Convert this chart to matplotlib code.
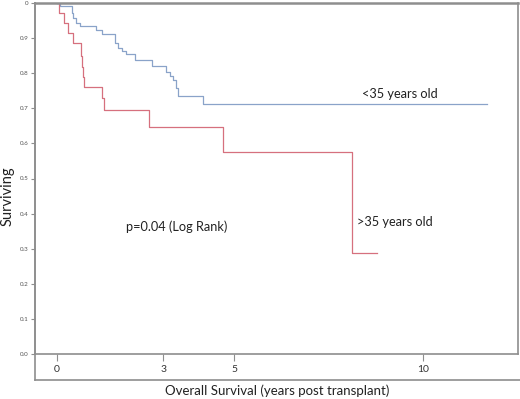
#!/usr/bin/env python3
"""Kaplan-Meier overall survival by recipient age (<35 vs >35 years old)."""

import matplotlib

matplotlib.use("Agg")

import matplotlib.pyplot as plt

# time after transplant (years) where each step happens, and survival after it
YOUNG_TIMES = [0.0, 0.08, 0.40, 0.45, 0.52, 0.63, 1.06, 1.22, 1.58, 1.68, 1.78,
               1.88, 2.13, 2.59, 2.98, 3.10, 3.17, 3.25, 3.31, 3.98, 11.75]
YOUNG_SURV = [1.0, 0.991, 0.971, 0.956, 0.942, 0.934, 0.923, 0.912, 0.885,
              0.871, 0.864, 0.854, 0.838, 0.821, 0.804, 0.792, 0.781, 0.757,
              0.735, 0.713, 0.713]

OLD_TIMES = [0.0, 0.05, 0.19, 0.31, 0.43, 0.65, 0.68, 0.70, 0.73, 1.24, 1.28,
             2.51, 4.53, 8.06, 8.74]
OLD_SURV = [1.0, 0.971, 0.942, 0.914, 0.885, 0.848, 0.819, 0.790, 0.760,
            0.728, 0.695, 0.648, 0.575, 0.288, 0.288]

# tick marks sit where the original axis put them, labels as printed
X_TICKS = [0.0, 2.90, 4.84, 10.0]
X_TICK_LABELS = ["0", "3", "5", "10"]
Y_TICKS = [0.0, 0.1, 0.2, 0.3, 0.4, 0.5, 0.6, 0.7, 0.8, 0.9, 1.0]
Y_TICK_LABELS = ["0.0", "0.1", "0.2", "0.3", "0.4", "0.5", "0.6", "0.7",
                 "0.8", "0.9", "0"]

BLUE = "#8aa3c9"
RED = "#d6707e"
FRAME = "#8e8e8e"
W, H = 520, 399


def fig_box(left, top, right, bottom):
    """pixel box -> figure fraction rect"""
    return [left / W, 1 - bottom / H, (right - left) / W, (bottom - top) / H]


def main():
    plt.rcParams["font.family"] = ["Lato", "DejaVu Sans"]
    fig = plt.figure(figsize=(W / 100, H / 100), dpi=100)

    # outer frame: left line runs down past the plot, bottom line under ticks
    frame = fig.add_axes(fig_box(35, 3, 520, 380), zorder=0)
    frame.set_xticks([])
    frame.set_yticks([])
    for side in ("top", "right"):
        frame.spines[side].set_visible(False)
    for side in ("left", "bottom"):
        frame.spines[side].set_color(FRAME)
        frame.spines[side].set_linewidth(1.2)
    frame.patch.set_alpha(0)

    ax = fig.add_axes(fig_box(35, 3, 518, 354), zorder=1)
    ax.patch.set_alpha(0)
    ax.step(YOUNG_TIMES, YOUNG_SURV, where="post", color=BLUE, linewidth=0.9)
    ax.step(OLD_TIMES, OLD_SURV, where="post", color=RED, linewidth=0.9)

    ax.set_xlim(-0.601, 12.596)
    ax.set_ylim(0, 1.0)
    for spine in ax.spines.values():
        spine.set_color(FRAME)
        spine.set_linewidth(1.2)
    ax.spines["top"].set_linewidth(1.8)

    ax.set_xticks(X_TICKS)
    ax.set_xticklabels(X_TICK_LABELS, fontsize=7.5, color="#333333")
    ax.tick_params(axis="x", direction="out", length=5, width=0.8,
                   color=FRAME, pad=3)
    ax.set_yticks(Y_TICKS)
    ax.set_yticklabels(Y_TICK_LABELS, fontsize=4.5, color="#555555")
    ax.tick_params(axis="y", direction="out", length=3, width=0.8,
                   color=FRAME, pad=1.5)

    fig.text(8 / W, 1 - 196 / H, "Surviving", rotation=90, fontsize=10.5,
             ha="center", va="center", color="#222222")
    fig.text(277 / W, 1 - 391 / H, "Overall Survival (years post transplant)",
             fontsize=9.5, ha="center", va="center", color="#222222")
    fig.text(362 / W, 1 - 94 / H, "<35 years old", fontsize=9.2,
             ha="left", va="center", color="#222222")
    fig.text(357 / W, 1 - 222 / H, ">35 years old", fontsize=9.2,
             ha="left", va="center", color="#222222")
    fig.text(126 / W, 1 - 227 / H, "p=0.04 (Log Rank)", fontsize=9.2,
             ha="left", va="center", color="#222222")

    fig.savefig("out.png", dpi=100)
    plt.close(fig)
    return 0


if __name__ == "__main__":
    raise SystemExit(main())
